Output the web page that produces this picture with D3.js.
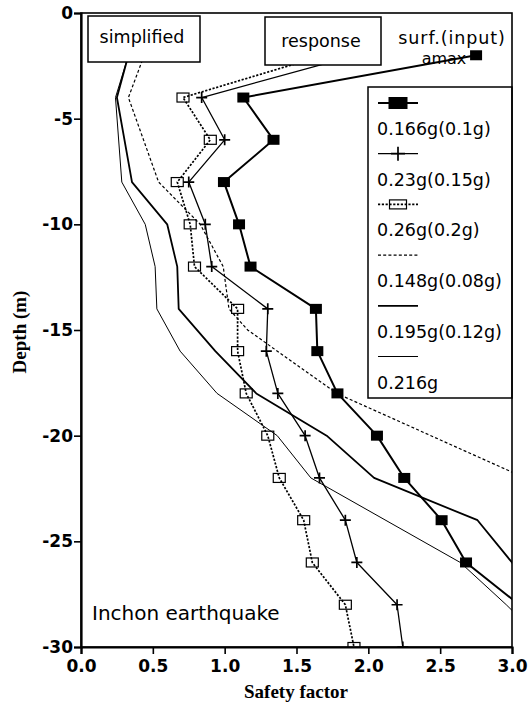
<!DOCTYPE html>
<html>
<head>
<meta charset="utf-8">
<script src="https://cdn.jsdelivr.net/npm/d3@7"></script>
<style>
  body { margin: 0; background: #fff; }
  svg { display: block; }
</style>
</head>
<body>
<svg id="chart" width="529" height="707"></svg>
<script>
// ---- data -------------------------------------------------------------
// depths (m) of the response-analysis layers; first entry is the surface (input) point
const depths = [-2, -4, -6, -8, -10, -12, -14, -16, -18, -20, -22, -24, -26, -28, -30];

// response analysis safety factors
const sf166 = [2.75, 1.13, 1.34, 0.995, 1.10, 1.18, 1.635, 1.645, 1.785, 2.06, 2.25, 2.51, 2.68, 3.05];
const sf230 = [1.91, 0.84, 1.00, 0.75, 0.865, 0.91, 1.30, 1.29, 1.37, 1.56, 1.66, 1.84, 1.92, 2.20, 2.24];
const sf260 = [1.69, 0.71, 0.90, 0.67, 0.76, 0.79, 1.09, 1.09, 1.15, 1.30, 1.38, 1.55, 1.61, 1.84, 1.90];

// simplified method profiles
const depth148 = [-2, -4, -8, -10, -12, -14, -15, -18, -22];
const sf148    = [0.44, 0.33, 0.54, 0.83, 0.99, 1.03, 1.16, 1.78, 3.09];
const depth195 = [-2, -4, -8, -10, -12, -14, -16, -18, -20, -22, -24, -26, -28];
const sf195    = [0.33, 0.25, 0.355, 0.60, 0.67, 0.68, 0.935, 1.22, 1.71, 2.04, 2.76, 3.0, 3.22];
const depth216 = [-2, -4, -8, -10, -12, -14, -16, -18, -20, -22, -26, -28, -30];
const sf216    = [0.33, 0.24, 0.284, 0.447, 0.516, 0.528, 0.69, 0.947, 1.366, 1.60, 2.64, 2.96, 3.26];

const xTicks = [0, 0.5, 1.0, 1.5, 2.0, 2.5, 3.0];
const yTicks = [0, -5, -10, -15, -20, -25, -30];

const legendLabels = ["0.166g(0.1g)", "0.23g(0.15g)", "0.26g(0.2g)", "0.148g(0.08g)", "0.195g(0.12g)", "0.216g"];

// ---- layout -----------------------------------------------------------
const svg = d3.select("#chart");
const L = 81, R = 512, T = 13, B = 647;

const x = d3.scaleLinear().domain([0, 3]).range([L, R]);
const y = d3.scaleLinear().domain([-30, 0]).range([B, T]);

const sansFont = "'DejaVu Sans', sans-serif";
const serifFont = "'Liberation Serif', 'Times New Roman', serif";

svg.append("rect").attr("width", 529).attr("height", 707).attr("fill", "#fff");

svg.append("defs").append("clipPath").attr("id", "plotClip")
  .append("rect").attr("x", L).attr("y", T).attr("width", R - L).attr("height", B - T);

// series styles
const styles = {
  s166: { width: 2.0, dash: null },
  s230: { width: 1.3, dash: null },
  s260: { width: 1.7, dash: "2.2,1.6" },
  s148: { width: 1.2, dash: "3,2.2" },
  s195: { width: 1.8, dash: null },
  s216: { width: 1.0, dash: null }
};

// text behind the surface line
svg.append("text").attr("x", 444).attr("y", 64).attr("text-anchor", "middle")
  .attr("font-family", sansFont).attr("font-size", 16).text("amax");

const plot = svg.append("g").attr("clip-path", "url(#plotClip)");

const line = d3.line().x(d => x(d[0])).y(d => y(d[1]));

function drawLine(vals, ds, st) {
  const pts = vals.map((v, i) => [v, ds[i]]);
  plot.append("path").attr("d", line(pts))
    .attr("fill", "none").attr("stroke", "#000")
    .attr("stroke-width", st.width)
    .attr("stroke-dasharray", st.dash)
    .attr("stroke-linejoin", "round");
  return pts;
}

// simplified profiles
drawLine(sf148, depth148, styles.s148);
drawLine(sf195, depth195, styles.s195);
drawLine(sf216, depth216, styles.s216);

// response profiles
const p260 = drawLine(sf260, depths, styles.s260);
const p230 = drawLine(sf230, depths, styles.s230);
const p166 = drawLine(sf166, depths, styles.s166);

// markers
function filledSquare(g, cx, cy, w, h) {
  g.append("rect").attr("x", cx - w / 2).attr("y", cy - h / 2)
    .attr("width", w).attr("height", h).attr("fill", "#000");
}
function openSquare(g, cx, cy, w, h) {
  g.append("rect").attr("x", cx - w / 2).attr("y", cy - h / 2)
    .attr("width", w).attr("height", h).attr("fill", "none")
    .attr("stroke", "#000").attr("stroke-width", 1.2);
}
function plusMark(g, cx, cy, s) {
  g.append("path").attr("d", `M${cx - s / 2},${cy}H${cx + s / 2}M${cx},${cy - s / 2}V${cy + s / 2}`)
    .attr("stroke", "#000").attr("stroke-width", 1.7).attr("fill", "none");
}

p260.forEach(d => openSquare(plot, x(d[0]), y(d[1]), 12, 9));
p230.forEach(d => plusMark(plot, x(d[0]), y(d[1]), 11));
p166.forEach(d => filledSquare(plot, x(d[0]), y(d[1]), 12, 10));

// ---- annotation boxes -------------------------------------------------
function labelBox(x0, y0, x1, y1, label, tx, ty) {
  svg.append("rect").attr("x", x0).attr("y", y0).attr("width", x1 - x0).attr("height", y1 - y0)
    .attr("fill", "#fff").attr("stroke", "#000").attr("stroke-width", 1.5);
  svg.append("text").attr("x", tx).attr("y", ty).attr("text-anchor", "middle")
    .attr("font-family", sansFont).attr("font-size", 17.5).text(label);
}
labelBox(88, 16, 200, 62, "simplified", 142, 43);
labelBox(265, 17, 381, 65, "response", 321, 47);

svg.append("text").attr("x", 452).attr("y", 44).attr("text-anchor", "middle")
  .attr("font-family", sansFont).attr("font-size", 17.5).attr("letter-spacing", 0.9)
  .text("surf.(input)");

svg.append("text").attr("x", 92).attr("y", 620)
  .attr("font-family", sansFont).attr("font-size", 20).text("Inchon earthquake");

// ---- legend -----------------------------------------------------------
const lg = svg.append("g");
lg.append("rect").attr("x", 368).attr("y", 87).attr("width", R - 368).attr("height", 398 - 87)
  .attr("fill", "#fff").attr("stroke", "#000").attr("stroke-width", 1.5);

const legendStyles = [styles.s166, styles.s230, styles.s260, styles.s148, styles.s195, styles.s216];
legendLabels.forEach((lab, i) => {
  const ly = 103 + i * 50.7;
  const st = legendStyles[i];
  lg.append("line").attr("x1", 378).attr("x2", 418).attr("y1", ly).attr("y2", ly)
    .attr("stroke", "#000").attr("stroke-width", st.width).attr("stroke-dasharray", st.dash);
  if (i === 0) filledSquare(lg, 398, ly, 19, 12);
  if (i === 1) plusMark(lg, 398, ly, 14);
  if (i === 2) openSquare(lg, 398, ly, 17, 9);
  lg.append("text").attr("x", 377).attr("y", ly + 32)
    .attr("font-family", sansFont).attr("font-size", 17.5).text(lab);
});

// ---- axes & frame -----------------------------------------------------
svg.append("rect").attr("x", L).attr("y", T).attr("width", R - L).attr("height", B - T)
  .attr("fill", "none").attr("stroke", "#000").attr("stroke-width", 1.6);

const yAxis = svg.append("g").attr("transform", `translate(${L},0)`)
  .call(d3.axisLeft(y).tickValues(yTicks).tickSize(7).tickPadding(1).tickFormat(d => String(d)));
const xAxis = svg.append("g").attr("transform", `translate(0,${B})`)
  .call(d3.axisBottom(x).tickValues(xTicks).tickSize(7).tickPadding(6).tickFormat(d3.format(".1f")));

[yAxis, xAxis].forEach(ax => {
  ax.select(".domain").attr("stroke-width", 2.2);
  ax.selectAll(".tick line").attr("stroke-width", 1.6);
  ax.selectAll(".tick text").attr("font-family", sansFont).attr("font-weight", "bold")
    .attr("font-size", 17).attr("fill", "#000");
});

svg.append("text").attr("x", 296).attr("y", 698).attr("text-anchor", "middle")
  .attr("font-family", serifFont).attr("font-weight", "bold").attr("font-size", 19)
  .text("Safety factor");
svg.append("text").attr("transform", "translate(26,332) rotate(-90)").attr("text-anchor", "middle")
  .attr("font-family", serifFont).attr("font-weight", "bold").attr("font-size", 19)
  .text("Depth (m)");
</script>
</body>
</html>
